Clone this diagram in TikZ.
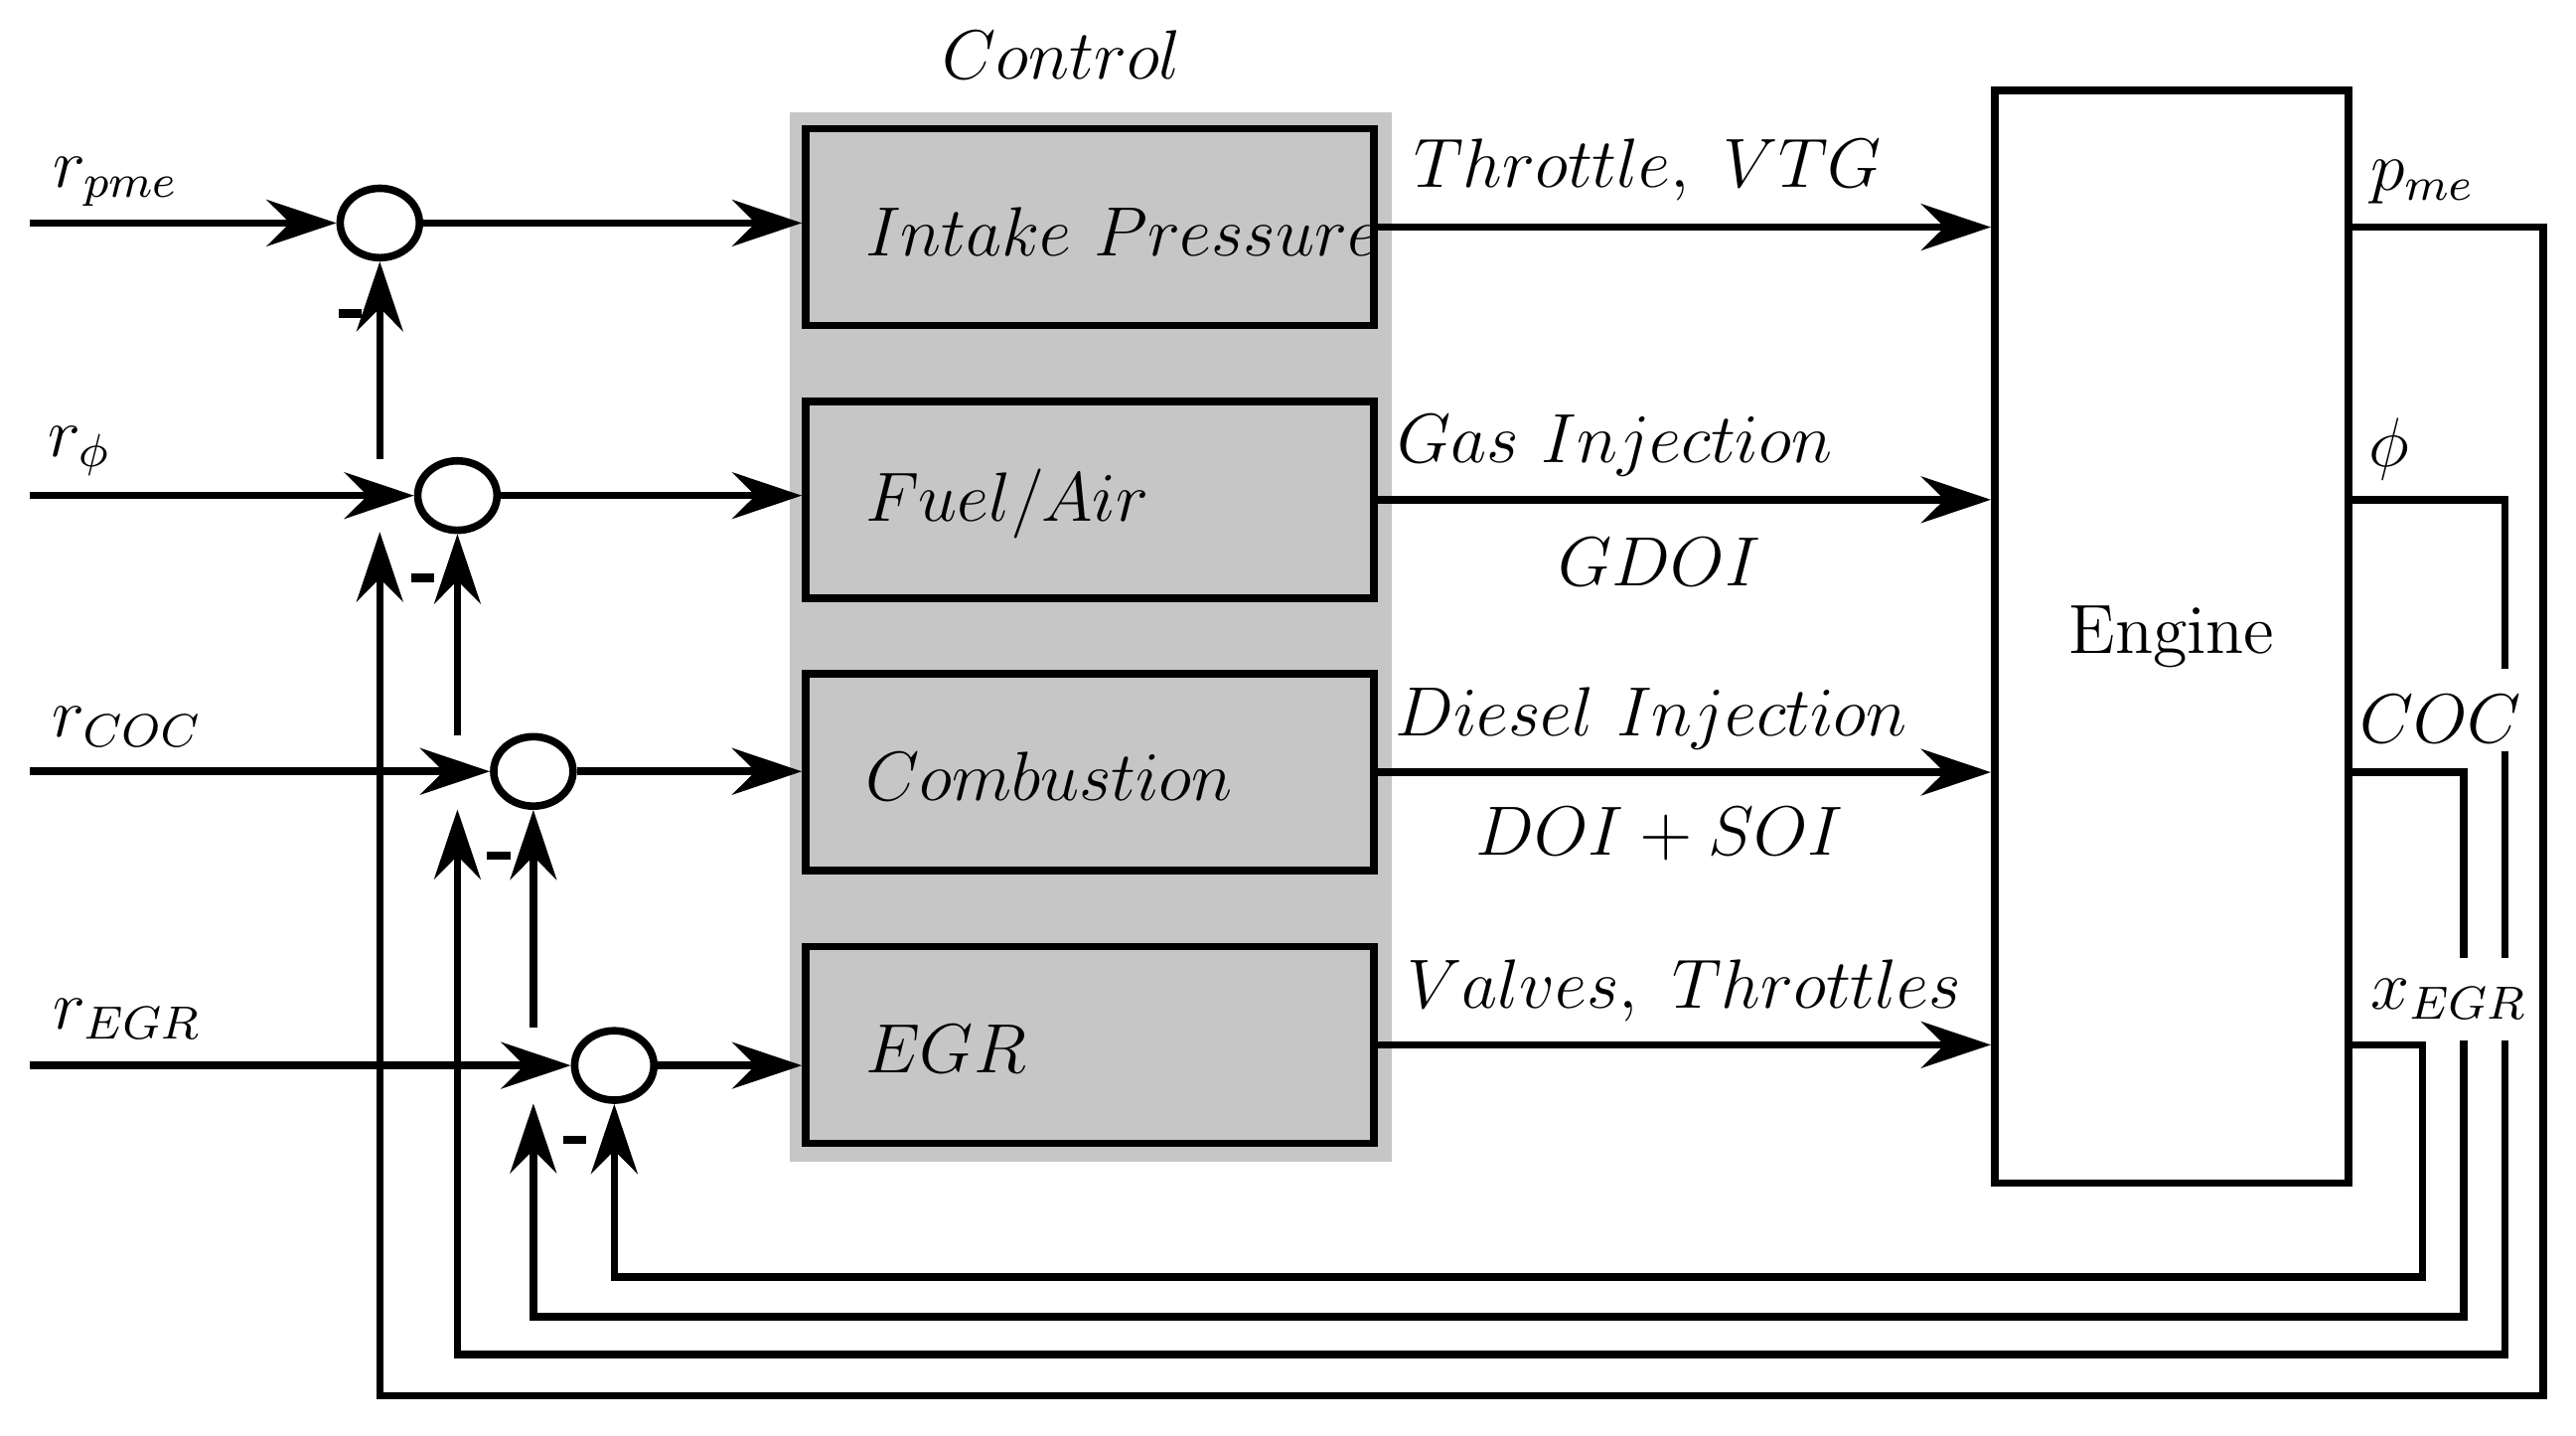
\documentclass[tikz,border=0pt]{standalone}
\usetikzlibrary{arrows.meta,shapes.geometric}
\begin{document}
\begin{tikzpicture}[x=0.01cm,y=-0.01cm,line width=1.3pt,
  blk/.style={draw,fill=gray!45,minimum width=3.44cm,minimum height=1.19cm,inner sep=0pt},
  sum/.style={draw,ellipse,minimum width=0.48cm,minimum height=0.42cm,inner sep=0pt},
  arr/.style={-{Stealth[length=12pt,width=8pt,inset=4pt]}},
  lbl/.style={font=\large}]
\useasboundingbox (0,0) rectangle (1560,869);
\fill[gray!45] (478,68) rectangle (843,703);
\node[lbl] (ctl) at (643,33) {$Control$};
% blocks
\node[blk] (b1) at (660,137.5) {};
\node[blk] (b2) at (660,302.5) {};
\node[blk] (b3) at (660,467.5) {};
\node[blk] (b4) at (660,632.5) {};
\node[lbl,anchor=west] at (510,140) {$Intake\ Pressure$};
\node[lbl,anchor=west] at (510,305) {$Fuel/Air$};
\node[lbl,anchor=west] at (510,470) {$Combustion$};
\node[lbl,anchor=west] at (510,635) {$EGR$};
\node[draw,minimum width=2.14cm,minimum height=6.61cm,font=\large] (eng) at (1315,385.5) {Engine};
% summing points
\node[sum] (s1) at (230,135) {};
\node[sum] (s2) at (277,300) {};
\node[sum] (s3) at (323,467) {};
\node[sum] (s4) at (372,645) {};
% inputs
\coordinate (i1) at (18,135); \coordinate (i2) at (18,300);
\coordinate (i3) at (18,467); \coordinate (i4) at (18,645);
\draw[arr] (i1) -- (s1); \draw[arr] (i2) -- (s2);
\draw[arr] (i3) -- (s3); \draw[arr] (i4) -- (s4);
\node[lbl] at (70,110) {$r_{pme}$};
\node[lbl] at (48,273) {$r_\phi$};
\node[lbl] at (77,440) {$r_{COC}$};
\node[lbl] at (77,617) {$r_{EGR}$};
% to blocks
\draw[arr] (s1) -- (b1.west|-s1); \draw[arr] (s2) -- (b2.west|-s2);
\draw[arr] (s3) -- (b3.west|-s3); \draw[arr] (s4) -- (b4.west|-s4);
% to engine
\draw[arr] (b1.east) -- (eng.west|-b1.east);
\draw[arr] (b2.east) -- (eng.west|-b2.east);
\draw[arr] (b3.east) -- (eng.west|-b3.east);
\draw[arr] (b4.east) -- (eng.west|-b4.east);
\node[lbl] at (998,103) {$Throttle,\ VTG$};
\node[lbl] at (978,270) {$Gas\ Injection$};
\node[lbl] at (1005,340) {$GDOI$};
\node[lbl] at (1000,435) {$Diesel\ Injection$};
\node[lbl] at (1005,505) {$DOI+SOI$};
\node[lbl] at (1020,600) {$Valves,\ Throttles$};
% outputs
\node[lbl] at (1467,110) {$p_{me}$};
\node[lbl] at (1447,272) {$\phi$};
\node[lbl] at (1478,435) {$COC$};
\node[lbl] at (1483,605) {$x_{EGR}$};
% feedback
\draw[arr] (eng.east|-b1.east) -- (1540,137.5) -- (1540,845) -- (230,845) -- (230,322);
\draw[arr] (230,278) -- (s1);
\draw (eng.east|-b2.east) -- (1517,302.5) -- (1517,405);
\draw (1517,455) -- (1517,580);
\draw[arr] (1517,630) -- (1517,820) -- (277,820) -- (277,490);
\draw[arr] (277,445) -- (s2);
\draw (eng.east|-b3.east) -- (1492,467.5) -- (1492,580);
\draw[arr] (1492,630) -- (1492,797) -- (323,797) -- (323,668);
\draw[arr] (323,622) -- (s3);
\draw[arr] (eng.east|-b4.east) -- (1467,632.5) -- (1467,773) -- (372,773) -- (s4);
% minus signs
\foreach \p in {(212,190),(256,350),(302,518),(348,690)}
  \draw[line width=1.5pt] \p ++(-7,0) -- ++(14,0);
\end{tikzpicture}
\end{document}
